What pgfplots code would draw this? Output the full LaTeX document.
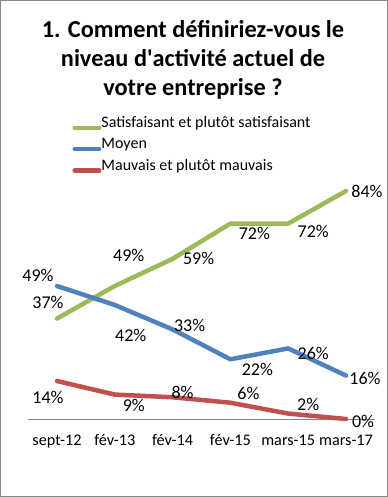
\documentclass[border=0pt]{standalone}
\usepackage{fontspec}
\setmainfont{Carlito}
\usepackage{pgfplots}
\usepackage{pgfplotstable}
\pgfplotsset{compat=1.18}
\definecolor{cgreen}{HTML}{9BBB59}
\definecolor{cblue}{HTML}{4F81BD}
\definecolor{cred}{HTML}{C0504D}
\definecolor{cframe}{HTML}{868686}

\pgfplotstableread{
x y dx dy
0 37 -9 16
1 49 14 31
2 59 26 0
3 72 24 -10
4 72 25 -8
5 84 21 0
}\greendata
\pgfplotstableread{
x y dx dy
0 49 -19 11
1 42 16 -30
2 33 17 4
3 22 27 -10
4 26 25 -5
5 16 19 -3
}\bluedata
\pgfplotstableread{
x y dx dy
0 14 -9 -16
1 9 19 -11
2 8 10 5
3 6 18 9
4 2 20 9
5 0 17 -2
}\reddata

\begin{document}
\begin{tikzpicture}
\path[draw=cframe, line width=1bp, fill=white] (0.5bp,0.5bp) rectangle (387.5bp,496.5bp);
\node[anchor=base, inner sep=0pt, font=\fontsize{24.3bp}{29bp}\bfseries\selectfont] at (193bp,459bp) {1. Comment définiriez-vous le};
\node[anchor=base, inner sep=0pt, font=\fontsize{24.3bp}{29bp}\bfseries\selectfont] at (193bp,430bp) {niveau d\textquotesingle activité actuel de};
\node[anchor=base, inner sep=0pt, font=\fontsize{24.3bp}{29bp}\bfseries\selectfont] at (193bp,401bp) {votre entreprise ?};
\begin{axis}[
  at={(28.1bp,78bp)}, anchor=south west, scale only axis,
  width=346.8bp, height=244.3bp,
  xmin=-0.5, xmax=5.5, ymin=0, ymax=90,
  clip=false,
  axis x line*=bottom, axis y line=none,
  axis line style={-, draw=cframe, line width=0.9bp},
  xtick={0,...,5},
  xticklabels={sept-12, fév-13, fév-14, fév-15, mars-15, mars-17},
  major tick length=0pt,
  xticklabel style={anchor=base, yshift=-26bp, inner sep=0pt, font=\fontsize{16.2bp}{19bp}\selectfont},
  ytick=\empty,
  /pgf/number format/assume math mode=true,
  nodes near coords={\pgfmathprintnumber{\pgfplotspointmeta}\%},
  visualization depends on={\thisrow{dx} \as \dx},
  visualization depends on={\thisrow{dy} \as \dy},
  every node near coord/.append style={anchor=center, inner sep=0pt, xshift=\dx bp, yshift=\dy bp, text=black, font=\fontsize{18bp}{21bp}\selectfont},
  legend image code/.code={\draw[#1, line cap=round] (0bp,0bp) -- (24.5bp,0bp);},
  legend style={at={(0.1273,1.2382)}, anchor=north west, draw=none, fill=none, inner sep=0pt, row sep=8.5bp,
    font=\fontsize{16bp}{19bp}\selectfont, nodes={inner sep=0pt, anchor=base west},
    /tikz/every even column/.append style={column sep=5bp}},
  legend cell align=left,
]
\addplot[cgreen, line width=4.5bp, line cap=round, line join=round, mark=none] table[x=x,y=y]{\greendata};
\addlegendentry{Satisfaisant et plutôt satisfaisant}
\addplot[cblue, line width=4.5bp, line cap=round, line join=round, mark=none] table[x=x,y=y]{\bluedata};
\addlegendentry{Moyen}
\addplot[cred, line width=4.5bp, line cap=round, line join=round, mark=none] table[x=x,y=y]{\reddata};
\addlegendentry{Mauvais et plutôt mauvais}
\end{axis}
\end{tikzpicture}
\end{document}
